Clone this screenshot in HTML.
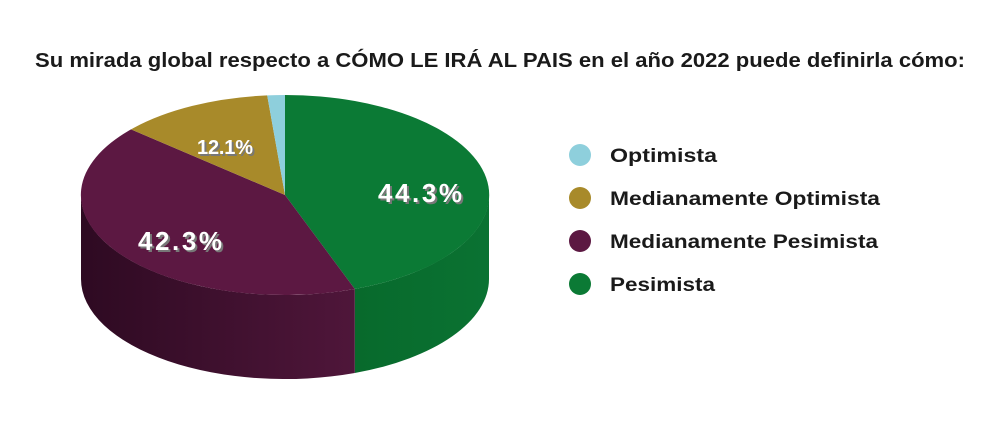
<!DOCTYPE html>
<html><head><style>
body{margin:0;background:#fff;width:1000px;height:423px;overflow:hidden;font-family:"Liberation Sans",sans-serif}
</style></head><body>
<svg width="1000" height="423" viewBox="0 0 1000 423" xmlns="http://www.w3.org/2000/svg">
<defs>
<linearGradient id="pg" x1="0" x2="1" y1="0" y2="0"><stop offset="0" stop-color="#2e0a22"/><stop offset="1" stop-color="#4f163a"/></linearGradient>
<linearGradient id="gg" x1="0" x2="1" y1="0" y2="0"><stop offset="0" stop-color="#086a2c"/><stop offset="1" stop-color="#0a7232"/></linearGradient>
</defs>
<text x="35" y="67" font-size="20" font-weight="bold" fill="#1a1a1a" textLength="930" lengthAdjust="spacingAndGlyphs">Su mirada global respecto a CÓMO LE IRÁ AL PAIS en el año 2022 puede definirla cómo:</text>
<path d="M489,195 A204,100 0 0 1 354.8,289 L354.8,373 A204,100 0 0 0 489,279 Z" fill="url(#gg)"/>
<path d="M354.8,289 A204,100 0 0 1 81,195 L81,279 A204,100 0 0 0 354.8,373 Z" fill="url(#pg)"/>
<path d="M285,195 L285,95 A204,100 0 0 1 354.8,289 Z" fill="#0b7a35"/>
<path d="M285,195 L354.8,289 A204,100 0 0 1 131,129.4 Z" fill="#5c1842"/>
<path d="M285,195 L131,129.4 A204,100 0 0 1 267.2,95.4 Z" fill="#a88a2a"/>
<path d="M285,195 L267.2,95.4 A204,100 0 0 1 285,95 Z" fill="#8ecfdc"/>
<g font-weight="bold" font-size="26" lengthAdjust="spacingAndGlyphs">
<text x="380" y="204" fill="#777" textLength="84">44.3%</text><text x="378" y="202" fill="#fff" textLength="84">44.3%</text>
<text x="140" y="252" fill="#777" textLength="84">42.3%</text><text x="138" y="250" fill="#fff" textLength="84">42.3%</text>
<text x="199" y="156" font-size="20" fill="#777" textLength="56">12.1%</text><text x="197" y="154" font-size="20" fill="#fff" textLength="56">12.1%</text>
</g>
<g font-size="19" fill="#1a1a1a" font-weight="bold">
<circle cx="580" cy="155" r="11" fill="#8ecfdc"/><text x="610" y="162" textLength="107" lengthAdjust="spacingAndGlyphs">Optimista</text>
<circle cx="580" cy="198" r="11" fill="#a88a2a"/><text x="610" y="205" textLength="270" lengthAdjust="spacingAndGlyphs">Medianamente Optimista</text>
<circle cx="580" cy="241" r="11" fill="#5c1842"/><text x="610" y="248" textLength="268" lengthAdjust="spacingAndGlyphs">Medianamente Pesimista</text>
<circle cx="580" cy="284" r="11" fill="#0b7a35"/><text x="610" y="291" textLength="105" lengthAdjust="spacingAndGlyphs">Pesimista</text>
</g>
</svg>
</body></html>
